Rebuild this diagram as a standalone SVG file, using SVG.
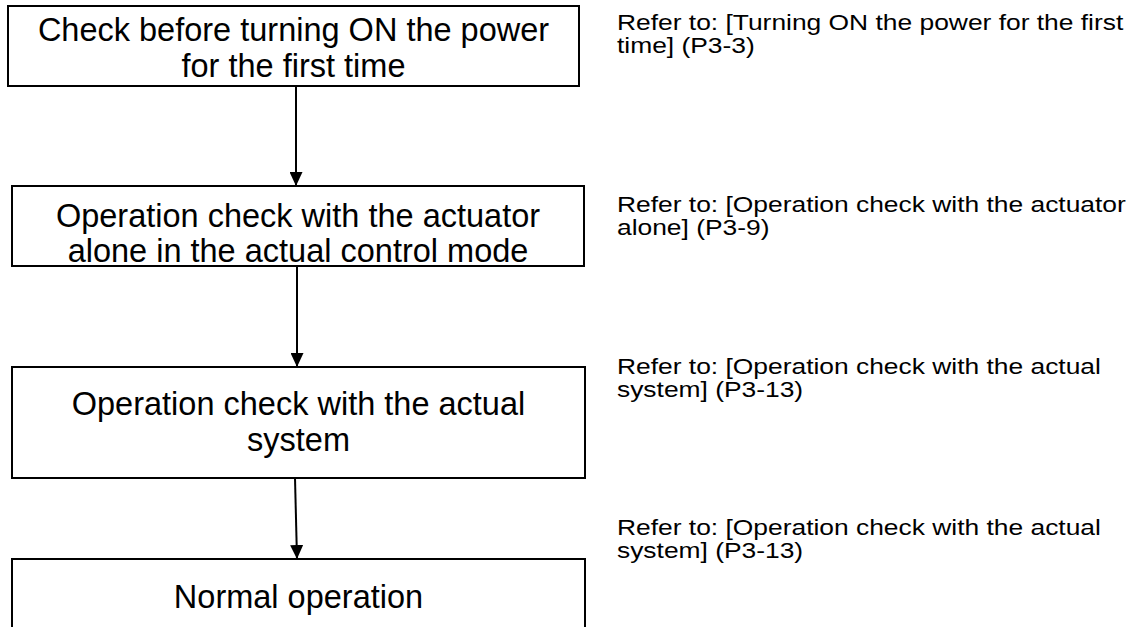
<svg xmlns="http://www.w3.org/2000/svg" width="1138" height="627" viewBox="0 0 1138 627">
<style>
.box{fill:#fff;stroke:#000;stroke-width:2}
.t{font-family:"Liberation Sans",Arial,sans-serif;font-size:32.5px;fill:#000;text-anchor:middle}
.r{font-family:"Liberation Sans",Arial,sans-serif;font-size:22px;fill:#000}
.c{stroke:#000;stroke-width:2;fill:none}
</style>
<defs>
<marker id="ah" markerWidth="14" markerHeight="13" refX="14" refY="6.5" orient="auto" markerUnits="userSpaceOnUse">
<path d="M0,0 L14,6.5 L0,13 Z" fill="#000"/>
</marker>
</defs>
<rect width="1138" height="627" fill="#fff"/>
<g id="connectors">
<line class="c" x1="296" y1="86" x2="296" y2="186" marker-end="url(#ah)"/>
<line class="c" x1="297" y1="266" x2="297" y2="367" marker-end="url(#ah)"/>
<line class="c" x1="295" y1="478" x2="297" y2="559" marker-end="url(#ah)"/>
</g>
<g id="n1">
<rect class="box" x="8" y="6" width="571" height="80"/>
<text class="t" x="293.5" y="41">Check before turning ON the power</text>
<text class="t" x="293.5" y="77">for the first time</text>
</g>
<g id="n2">
<rect class="box" x="12" y="186" width="572" height="80"/>
<text class="t" x="298" y="227">Operation check with the actuator</text>
<text class="t" x="298" y="262">alone in the actual control mode</text>
</g>
<g id="n3">
<rect class="box" x="12" y="367" width="573" height="111"/>
<text class="t" x="298.5" y="415">Operation check with the actual</text>
<text class="t" x="298.5" y="451">system</text>
</g>
<g id="n4">
<rect class="box" x="12" y="559" width="573" height="80"/>
<text class="t" x="298.5" y="608">Normal operation</text>
</g>
<g id="refs" transform="translate(617 0) scale(1.2 1) translate(-617 0)">
<text class="r" x="617" y="30.5">Refer to: [Turning ON the power for the first</text>
<text class="r" x="617" y="53">time] (P3-3)</text>
<text class="r" x="617" y="212.5">Refer to: [Operation check with the actuator</text>
<text class="r" x="617" y="235">alone] (P3-9)</text>
<text class="r" x="617" y="374.5">Refer to: [Operation check with the actual</text>
<text class="r" x="617" y="397">system] (P3-13)</text>
<text class="r" x="617" y="535.5">Refer to: [Operation check with the actual</text>
<text class="r" x="617" y="558">system] (P3-13)</text>
</g>
</svg>
